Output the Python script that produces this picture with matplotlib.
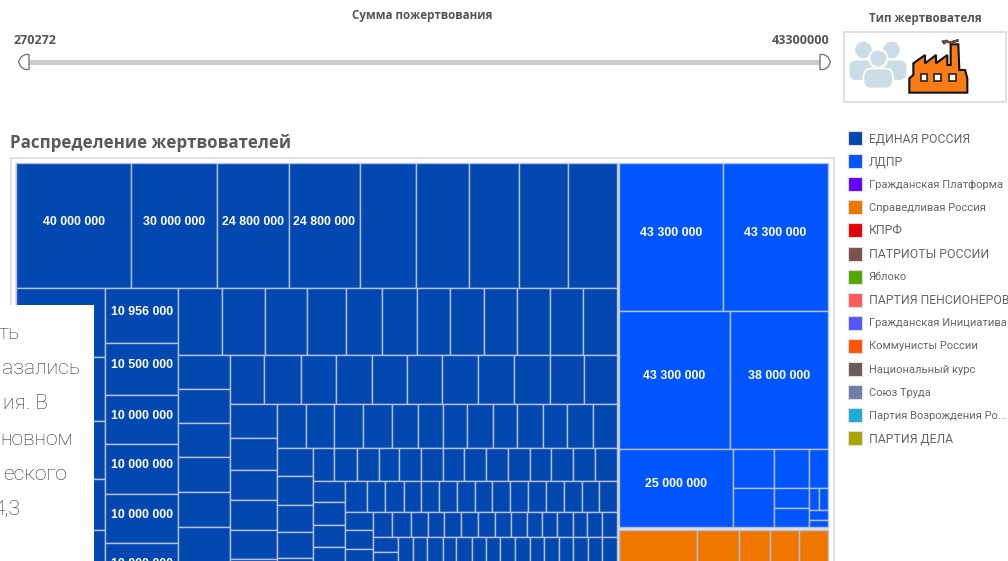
import matplotlib
matplotlib.use("Agg")
import matplotlib.pyplot as plt
from matplotlib.patches import Rectangle, Circle, Polygon, FancyBboxPatch

# --- data (millions of roubles) ---
er_row1 = [40, 30, 24.8, 24.8, 19.6, 18.4, 17.2, 17.2, 16.9]
er_col_a = [16.8, 16, 14.3, 12.6, 12.5, 3.0]
er_col_b = [10.956, 10.5, 10, 10, 10, 10]
er_row2 = [8.0, 8.0, 7.6, 7.25, 6.55, 6.35, 6.15, 6.15, 6.15, 6.0, 6.15, 6.15]
er_col_c = [4.95, 4.8, 4.9, 5.0, 4.95, 5.0, 4.5]
er_row3 = [4.8, 5.0, 4.9, 4.9, 4.9, 4.8, 5.0, 4.9, 5.0, 4.7, 4.5]
er_col_d = [4.33, 4.2, 3.96, 3.9, 3.85, 4.41]
er_row4 = [3.5, 3.45, 3.5, 3.5, 3.14, 2.98, 2.94, 3.07, 2.94, 3.06, 2.98, 3.06, 2.95]
er_col_e = [2.76, 2.89, 2.63, 2.63, 3.46]
er_row5 = [1.97, 2, 2, 1.87, 2, 1.97, 1.9, 2, 1.97, 2.02, 1.88, 1.96, 2, 2]
er_col_f = [1.92, 2.09, 1.95, 2.0, 2.2]
er_row6 = [1.85, 1.62, 1.59, 1.5, 1.53, 1.56, 1.53, 1.5, 1.56, 1.53, 1.53, 1.56, 1.53, 1.5, 1.56]
er_col_g = [1.43, 1.44, 1.44, 2.03]
er_row7 = [1.27, 1.34, 1.18, 1.15, 1.22, 1.15, 1.22, 1.13, 1.06, 1.08, 1.03, 1.15, .99, 1.06, 1.03]
er_col_h = [1.0, 1.0, 1.85]
er_row8 = [1.08, 1.0, 1.08, .99, 1.08, 1.0, 1.05, 1.04, 1.1, .99, 1.08, .98, 1.1, .98, 1.08]

ld_row1 = [43.3, 43.3]
ld_row2 = [43.3, 38]
ld_col1 = [25]
ld_col2 = [4.5, 4.5]
ld_col3 = [3.87, 1.91, 1.93]
ld_row3 = [2.0]
ld_row4 = [.65, .55]
ld_row5 = [.49]
ld_row6 = [.39]

sr_row1 = [22, 11.8, 8.54, 8.4, 7.94]

parties = ["ЕДИНАЯ РОССИЯ", "ЛДПР", "Гражданская Платформа", "Справедливая Россия", "КПРФ",
           "ПАТРИОТЫ РОССИИ", "Яблоко", "ПАРТИЯ ПЕНСИОНЕРОВ", "Гражданская Инициатива",
           "Коммунисты России", "Национальный курс", "Союз Труда",
           "Партия Возрождения Ро...", "ПАРТИЯ ДЕЛА"]
party_colors = ["#0347b1", "#0055ff", "#6600ff", "#ef7700", "#e60000", "#804f4f", "#55a600",
                "#ff5a5a", "#5555ff", "#ff5500", "#6b5b5b", "#6e7fa8", "#22aad8", "#aaa600"]

slider_min = 270272
slider_max = 43300000

overlay_lines = ["ть", "азались", "ия. В", "новном", "еского", "4,3"]
overlay_right = [20, 80, 48, 73, 67, 20]

# --- layout ---
fig = plt.figure(figsize=(10.08, 5.61), dpi=100, facecolor="white")
ax = fig.add_axes([0, 0, 1, 1])
ax.set_xlim(0, 1008)
ax.set_ylim(561, 0)
ax.axis("off")

EDGE = "#b4c0dc"
FS = "Liberation Sans"
BOX_RIGHT = 94
BOX_TOP = 305


def label(v):
    return f"{round(v * 1e6):,}".replace(",", " ")


def treemap(x, y, w, h, strips, color, k=None):
    total = sum(sum(vals) for _, vals in strips)
    if k is None:
        k = w * h / total
    for kind, vals in strips:
        s = sum(vals)
        if kind == "top":           # a row along the top of what is left
            t = s * k / w
            cx = x
            for v in vals:
                cw = v / s * w
                cell(cx, y, cw, t, v, color)
                cx += cw
            y += t
            h -= t
        else:                       # a column along the left of what is left
            t = s * k / h
            cy = y
            for v in vals:
                ch = v / s * h
                cell(x, cy, t, ch, v, color)
                cy += ch
            x += t
            w -= t


def cell(x, y, w, h, v, color):
    ax.add_patch(Rectangle((x, y), w, h, facecolor=color, edgecolor=EDGE, lw=1.0, zorder=2))
    tx, ty = x + w / 2, y + h / 2 - 4
    under_box = tx < BOX_RIGHT and ty > BOX_TOP
    # labels only where the reference shows them: wide cells, not under the white box or below the picture
    if v >= 10 and w >= 65 and not under_box and ty < 568:
        ax.text(tx, ty, label(v), color="white", ha="center", va="center",
                fontsize=8.9, fontweight="bold", family=FS, zorder=3)


# frame of the treemap
ax.add_patch(Rectangle((10.5, 157.5), 823, 420, facecolor="white", edgecolor="#dcdcdc", lw=1.2, zorder=1))
ax.add_patch(Rectangle((15, 162.5), 814, 420, facecolor="#e6e6e6", edgecolor="none", zorder=1))

treemap(16, 163, 601, 430, [
    ("top", er_row1), ("left", er_col_a), ("left", er_col_b), ("top", er_row2),
    ("left", er_col_c), ("top", er_row3), ("left", er_col_d), ("top", er_row4),
    ("left", er_col_e), ("top", er_row5), ("left", er_col_f), ("top", er_row6),
    ("left", er_col_g), ("top", er_row7), ("left", er_col_h), ("top", er_row8),
], party_colors[0], k=361)

treemap(619, 163, 208.7, 364.3, [
    ("top", ld_row1), ("top", ld_row2), ("left", ld_col1), ("left", ld_col2),
    ("left", ld_col3), ("top", ld_row3), ("top", ld_row4), ("top", ld_row5), ("top", ld_row6),
], party_colors[1])

treemap(619, 530, 208.7, 100, [("top", sr_row1)], party_colors[3], k=355.8)

# white box over the chart with clipped article text
ax.add_patch(Rectangle((0, BOX_TOP), BOX_RIGHT, 260, facecolor="white", edgecolor="none", zorder=5))
for i, (t, r) in enumerate(zip(overlay_lines, overlay_right)):
    ax.text(r, 333.5 + i * 35.2, t, ha="right", va="center", fontsize=15.2, family="Roboto",
            fontweight="light", color="#333333", zorder=6)

# title
ax.text(10, 142.5, "Распределение жертвователей", fontsize=12.2, fontweight="bold", family="Open Sans",
        color="#5a5a5a", va="center", ha="left")

# slider
ax.text(422, 15.5, "Сумма пожертвования", fontsize=8.4, fontweight="bold", family="Open Sans",
        color="#555555", ha="center", va="center")
ax.text(14, 40.5, str(slider_min), fontsize=9, fontweight="bold", family="Open Sans", color="#555555",
        ha="left", va="center")
ax.text(830, 40.5, str(slider_max), fontsize=9, fontweight="bold", family="Open Sans", color="#555555",
        ha="right", va="center")
ax.add_patch(Rectangle((29, 60), 792, 4.5, facecolor="#cccccc", edgecolor="none", zorder=2))
for sgn, x0 in ((-1, 29), (1, 820)):
    pts = [(x0, 54.5), (x0 + sgn * 4, 54.5), (x0 + sgn * 8, 57), (x0 + sgn * 10.5, 62),
           (x0 + sgn * 8, 67), (x0 + sgn * 4, 69.5), (x0, 69.5)]
    ax.add_patch(Polygon(pts, closed=True, facecolor="white", edgecolor="#777777", lw=1, zorder=3))

# donor type selector
ax.text(925, 18.5, "Тип жертвователя", fontsize=8.4, fontweight="bold", family="Open Sans",
        color="#555555", ha="center", va="center")
ax.add_patch(Rectangle((843.5, 31.5), 162, 70.5, facecolor="white", edgecolor="#dddddd", lw=1.3))
PEOPLE = "#cddde8"
for hx, bx in ((863.5, 861.5), (891.5, 894.5)):
    ax.add_patch(Circle((hx, 50), 8.3, facecolor=PEOPLE, edgecolor="none", zorder=2))
    ax.add_patch(FancyBboxPatch((bx - 7.5, 65), 15, 10.5, boxstyle="round,pad=4.5,rounding_size=7",
                                facecolor=PEOPLE, edgecolor="none", zorder=2))
ax.add_patch(Circle((878.3, 58.5), 9, facecolor=PEOPLE, edgecolor="white", lw=1.5, zorder=3))
ax.add_patch(FancyBboxPatch((868, 73), 20.5, 11, boxstyle="round,pad=4.5,rounding_size=8",
                            facecolor=PEOPLE, edgecolor="white", lw=1.2, zorder=3))

zx = lambda v: 830 + v / 3
factory = [(238, 278), (238, 235), (250, 225), (250, 190), (285, 165), (285, 190), (318, 165), (318, 190),
           (352, 165), (352, 195), (362, 195), (362, 133), (385, 133), (388, 210), (405, 210),
           (412, 235), (412, 278)]
ax.add_patch(Polygon([(zx(a), b / 3) for a, b in factory], closed=True, facecolor="#f97c14",
                     edgecolor="#111111", lw=1.5, zorder=3))
for a in (282, 323, 367):
    ax.add_patch(Rectangle((zx(a - 10), 222 / 3), 6.5, 6.5, facecolor="white", edgecolor="#222222", lw=1.2, zorder=4))
smoke = [(335, 123), (350, 120), (360, 125), (385, 118), (385, 124), (362, 131), (350, 127), (342, 133)]
ax.add_patch(Polygon([(zx(a), b / 3) for a, b in smoke], closed=True, facecolor="#8a4a20",
                     edgecolor="#333333", lw=0.5, zorder=3))

# legend
for i, (p, c) in enumerate(zip(parties, party_colors)):
    y = 138 + i * 23.1
    ax.add_patch(Rectangle((848, y - 7), 14, 14, facecolor=c, edgecolor="#dddddd", lw=0.8))
    ax.text(869, y + 0.5, p, fontsize=8.8 if p.isupper() else 8.0, family="Roboto", color="#666666",
            ha="left", va="center")

fig.savefig("out.png", dpi=100)
